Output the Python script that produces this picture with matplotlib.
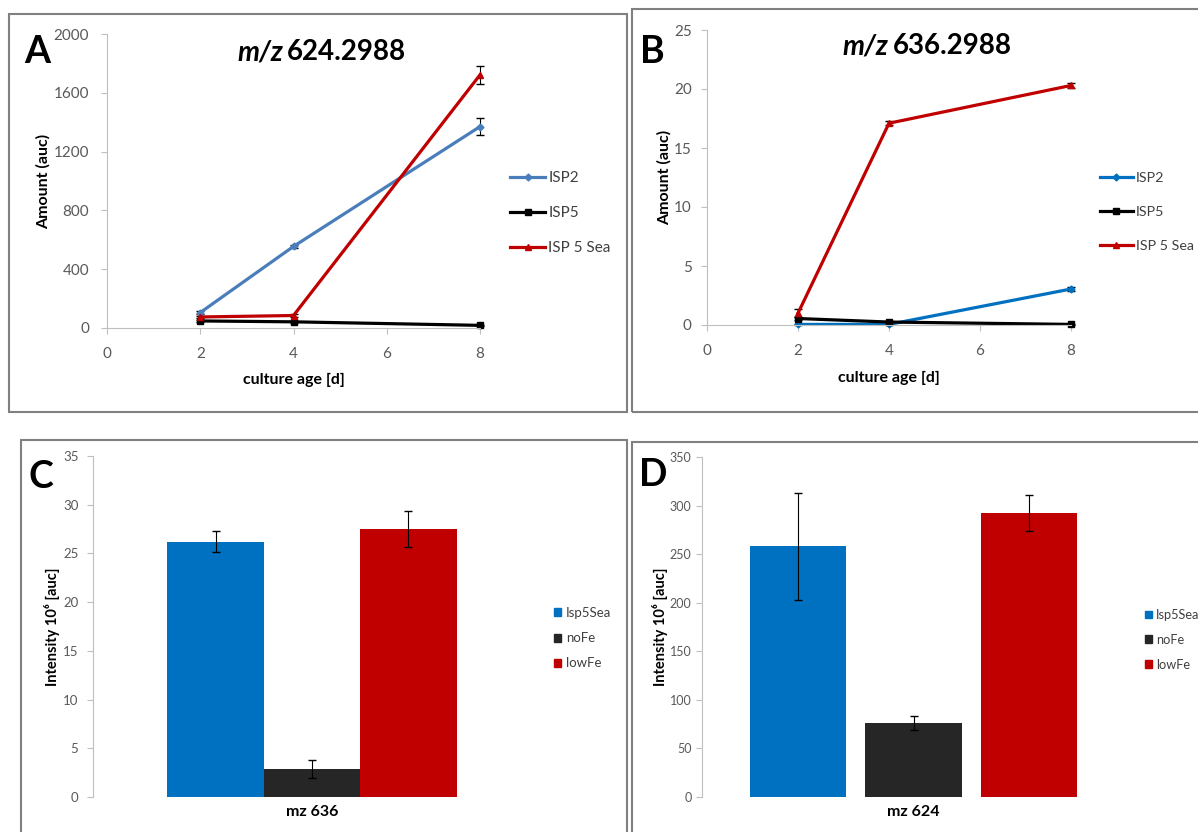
import matplotlib
matplotlib.use("Agg")
import matplotlib.pyplot as plt
from matplotlib.patches import Rectangle, Patch
from matplotlib.lines import Line2D

plt.rcParams['font.family'] = ['Lato', 'DejaVu Sans']

# culture time course (panels A and B)
days = [2, 4, 8]
series_names = ["ISP2", "ISP5", "ISP 5 Sea"]

a_isp2 = [105, 555, 1370]
a_isp5 = [48, 42, 18]
a_sea = [75, 85, 1722]
a_isp2_err = [8, 12, 57]
a_isp5_err = [5, 5, 3]
a_sea_err = [8, 10, 61]

b_isp2 = [0.05, 0.05, 3.05]
b_isp5 = [0.55, 0.25, 0.05]
b_sea = [1.0, 17.1, 20.3]
b_isp2_err = [0.05, 0.05, 0.15]
b_isp5_err = [0.1, 0.05, 0.02]
b_sea_err = [0.35, 0.15, 0.2]

# bar panels (C and D)
conditions = ["Isp5Sea", "noFe", "lowFe"]
c_vals = [26.2, 2.9, 27.5]
c_err = [1.1, 0.9, 1.85]
d_vals = [258, 76, 292]
d_err = [55, 7, 18.5]

W, H = 1198, 832
fig = plt.figure(figsize=(W / 100, H / 100), dpi=100)


def px(x, y):
    return x / W, 1 - y / H


def frame(x0, y0, x1, y1):
    fig.add_artist(Rectangle((x0 / W, 1 - y1 / H), (x1 - x0) / W, (y1 - y0) / H,
                             transform=fig.transFigure, fill=False,
                             edgecolor="#808080", lw=1.5))


def axes_px(x0, y0, x1, y1):
    return fig.add_axes([x0 / W, 1 - y1 / H, (x1 - x0) / W, (y1 - y0) / H])


def style(ax, size, ypad, xpad=10, bottom=True):
    for s in ["top", "right"]:
        ax.spines[s].set_visible(False)
    ax.spines["left"].set_color("#BFBFBF")
    ax.spines["bottom"].set_color("#BFBFBF")
    ax.spines["bottom"].set_visible(bottom)
    ax.tick_params(direction="out", length=4, color="#BFBFBF",
                   labelcolor="#595959", labelsize=size)
    ax.tick_params(axis="y", pad=ypad)
    ax.tick_params(axis="x", pad=xpad)


frame(9, 14, 627, 412)
frame(632, 9, 1220, 412)
frame(21, 440, 627, 850)
frame(632, 442, 1220, 850)

mk = ["D", "s", "^"]
msz = [3.5, 5, 5]

# ---- A ----
axA = axes_px(107, 34, 480, 328)
style(axA, 11, 9)
colsA = ["#4A7EBB", "#000000", "#C00000"]
for y, e, c, m, s, lab in zip([a_isp2, a_isp5, a_sea], [a_isp2_err, a_isp5_err, a_sea_err],
                              colsA, mk, msz, series_names):
    axA.errorbar(days, y, yerr=e, color=c, lw=2.3, marker=m, ms=s, ecolor="black",
                 elinewidth=0.8, capsize=3, label=lab, clip_on=False)
axA.set_xlim(0, 8)
axA.set_ylim(0, 2000)
axA.set_xticks([0, 2, 4, 6, 8])
axA.set_yticks([0, 400, 800, 1200, 1600, 2000])
axA.set_xlabel("culture age [d]", fontsize=11.5, fontweight="bold", labelpad=8)
axA.set_ylabel("Amount (auc)", fontsize=11.5, fontweight="bold", labelpad=2)
handlesA = [Line2D([], [], color=c, lw=2.3, marker=m, ms=s) for c, m, s in zip(colsA, mk, msz)]
axA.legend(handlesA, series_names, loc="upper left", bbox_to_anchor=px(510, 171),
           bbox_transform=fig.transFigure, frameon=False, fontsize=11, handlelength=2.3,
           handletextpad=0.2, labelspacing=1.38, borderpad=0, borderaxespad=0,
           labelcolor="#404040")

# ---- B ----
axB = axes_px(707, 30, 1071, 325)
style(axB, 11, 7)
colsB = ["#0070C0", "#000000", "#C00000"]
for y, e, c, m, s, lab in zip([b_isp2, b_isp5, b_sea], [b_isp2_err, b_isp5_err, b_sea_err],
                              colsB, mk, msz, series_names):
    axB.errorbar(days, y, yerr=e, color=c, lw=2.3, marker=m, ms=s, ecolor="black",
                 elinewidth=0.8, capsize=3, label=lab, clip_on=False)
axB.set_xlim(0, 8)
axB.set_ylim(0, 25)
axB.set_xticks([0, 2, 4, 6, 8])
axB.set_yticks([0, 5, 10, 15, 20, 25])
axB.set_xlabel("culture age [d]", fontsize=11.5, fontweight="bold", labelpad=9)
axB.set_ylabel("Amount (auc)", fontsize=11.5, fontweight="bold", labelpad=1.5)
handlesB = [Line2D([], [], color=c, lw=2.3, marker=m, ms=s) for c, m, s in zip(colsB, mk, msz)]
axB.legend(handlesB, series_names, loc="upper left", bbox_to_anchor=px(1100, 172),
           bbox_transform=fig.transFigure, frameon=False, fontsize=10.3, handlelength=2.3,
           handletextpad=0.2, labelspacing=1.52, borderpad=0, borderaxespad=0,
           labelcolor="#404040")

# ---- C ----
bar_cols = ["#0070C0", "#262626", "#C00000"]
axC = axes_px(93, 456, 531, 797)
style(axC, 9.5, 6.5, bottom=False)
axC.bar([-0.22, 0, 0.22], c_vals, width=0.22, color=bar_cols, yerr=c_err,
        error_kw=dict(elinewidth=0.8, capsize=3, ecolor="black"))
axC.set_xlim(-0.5, 0.5)
axC.set_ylim(0, 35)
axC.set_xticks([])
axC.set_yticks(range(0, 36, 5))
axC.set_xlabel("mz 636", fontsize=11.5, fontweight="bold", labelpad=6)
axC.set_ylabel("Intensity 10⁶ [auc]", fontsize=10.5, fontweight="bold", labelpad=2)
axC.legend([Patch(color=c) for c in bar_cols], conditions, loc="upper left",
           bbox_to_anchor=px(554, 607), bbox_transform=fig.transFigure, frameon=False,
           fontsize=9.5, handlelength=0.55, handleheight=0.55, handletextpad=0.35,
           labelspacing=1.0, borderpad=0, borderaxespad=0, labelcolor="#404040")

# ---- D ----
axD = axes_px(702, 457, 1125, 797)
style(axD, 9, 3.5, bottom=False)
axD.bar([-0.272, 0, 0.272], d_vals, width=0.227, color=bar_cols, yerr=d_err,
        error_kw=dict(elinewidth=0.8, capsize=3, ecolor="black"))
axD.set_xlim(-0.5, 0.5)
axD.set_ylim(0, 350)
axD.set_xticks([])
axD.set_yticks(range(0, 351, 50))
axD.set_xlabel("mz 624", fontsize=11.5, fontweight="bold", labelpad=6)
axD.set_ylabel("Intensity 10⁶ [auc]", fontsize=10.5, fontweight="bold", labelpad=1.5)
axD.legend([Patch(color=c) for c in bar_cols], conditions, loc="upper left",
           bbox_to_anchor=px(1145, 609), bbox_transform=fig.transFigure, frameon=False,
           fontsize=9.2, handlelength=0.55, handleheight=0.55, handletextpad=0.3,
           labelspacing=1.0, borderpad=0, borderaxespad=0, labelcolor="#404040")

# titles and panel letters
fig.text(*px(283, 60), "m/z", fontsize=20, fontweight="bold", style="italic", ha="right", va="baseline")
fig.text(*px(287, 60), "624.2988", fontsize=20, fontweight="bold", ha="left", va="baseline")
fig.text(*px(888, 54), "m/z", fontsize=20, fontweight="bold", style="italic", ha="right", va="baseline")
fig.text(*px(893, 54), "636.2988", fontsize=20, fontweight="bold", ha="left", va="baseline")

for lab, x, y in [("A", 24, 63), ("B", 640, 63), ("C", 29, 488), ("D", 639, 486)]:
    fig.text(*px(x, y), lab, fontsize=27, fontweight="bold", ha="left", va="baseline")

fig.savefig("out.png", dpi=100)
